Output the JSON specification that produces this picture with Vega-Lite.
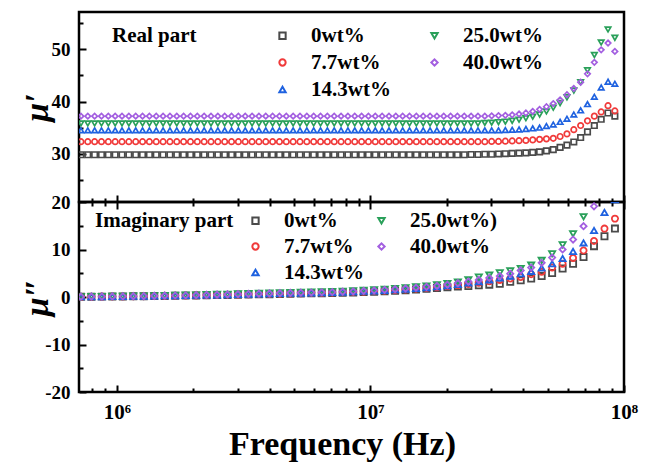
{
  "$schema": "https://vega.github.io/schema/vega-lite/v6.json",
  "background": "white",
  "padding": {"left": 18, "top": 10, "right": 5, "bottom": 5},
  "spacing": 0,
  "bounds": "flush",
  "config": {
    "font": "Liberation Serif",
    "view": {"stroke": "black", "strokeWidth": 2.5},
    "axis": {"labelFont": "Liberation Serif", "labelFontWeight": "bold", "labelFontSize": 19, "labelColor": "black", "tickColor": "black", "tickWidth": 2, "domain": false, "grid": false, "titleFont": "Liberation Serif", "titleFontWeight": "bold", "titleColor": "black", "labelOverlap": false, "labelFlush": false},
    "legend": {"labelFont": "Liberation Serif", "labelFontWeight": "bold", "labelFontSize": 21, "labelColor": "black", "titleFont": "Liberation Serif", "titleFontWeight": "bold", "titleFontSize": 21, "titleColor": "black", "symbolSize": 40, "symbolStrokeWidth": 2}
  },
  "datasets": {
    "real": [
      {"f":721100,"a":29.8,"b":32.3,"c":34.5,"d":35.8,"e":37.2},
      {"f":767400,"a":29.8,"b":32.3,"c":34.5,"d":35.8,"e":37.2},
      {"f":816600,"a":29.8,"b":32.3,"c":34.5,"d":35.8,"e":37.2},
      {"f":869000,"a":29.8,"b":32.3,"c":34.5,"d":35.8,"e":37.2},
      {"f":924700,"a":29.8,"b":32.3,"c":34.5,"d":35.8,"e":37.2},
      {"f":984000,"a":29.8,"b":32.3,"c":34.5,"d":35.8,"e":37.2},
      {"f":1047100,"a":29.8,"b":32.3,"c":34.5,"d":35.8,"e":37.2},
      {"f":1114300,"a":29.8,"b":32.3,"c":34.5,"d":35.8,"e":37.2},
      {"f":1185800,"a":29.8,"b":32.3,"c":34.5,"d":35.8,"e":37.2},
      {"f":1261800,"a":29.8,"b":32.3,"c":34.5,"d":35.8,"e":37.2},
      {"f":1342800,"a":29.8,"b":32.3,"c":34.5,"d":35.8,"e":37.2},
      {"f":1428900,"a":29.8,"b":32.3,"c":34.5,"d":35.8,"e":37.2},
      {"f":1520500,"a":29.8,"b":32.3,"c":34.5,"d":35.8,"e":37.2},
      {"f":1618100,"a":29.8,"b":32.3,"c":34.5,"d":35.8,"e":37.2},
      {"f":1721900,"a":29.8,"b":32.3,"c":34.5,"d":35.8,"e":37.2},
      {"f":1832300,"a":29.8,"b":32.3,"c":34.5,"d":35.8,"e":37.2},
      {"f":1949800,"a":29.8,"b":32.3,"c":34.5,"d":35.8,"e":37.2},
      {"f":2074900,"a":29.8,"b":32.3,"c":34.5,"d":35.8,"e":37.2},
      {"f":2208000,"a":29.8,"b":32.3,"c":34.5,"d":35.8,"e":37.2},
      {"f":2349600,"a":29.8,"b":32.3,"c":34.5,"d":35.8,"e":37.2},
      {"f":2500300,"a":29.8,"b":32.3,"c":34.5,"d":35.8,"e":37.2},
      {"f":2660700,"a":29.8,"b":32.3,"c":34.5,"d":35.8,"e":37.2},
      {"f":2831400,"a":29.8,"b":32.3,"c":34.5,"d":35.8,"e":37.2},
      {"f":3013000,"a":29.8,"b":32.3,"c":34.5,"d":35.8,"e":37.2},
      {"f":3206300,"a":29.8,"b":32.3,"c":34.5,"d":35.8,"e":37.2},
      {"f":3411900,"a":29.8,"b":32.3,"c":34.5,"d":35.8,"e":37.2},
      {"f":3630800,"a":29.8,"b":32.3,"c":34.5,"d":35.8,"e":37.2},
      {"f":3863700,"a":29.8,"b":32.3,"c":34.5,"d":35.8,"e":37.2},
      {"f":4111500,"a":29.8,"b":32.3,"c":34.5,"d":35.8,"e":37.2},
      {"f":4375200,"a":29.8,"b":32.3,"c":34.5,"d":35.8,"e":37.2},
      {"f":4655900,"a":29.8,"b":32.3,"c":34.5,"d":35.8,"e":37.2},
      {"f":4954500,"a":29.8,"b":32.3,"c":34.5,"d":35.8,"e":37.2},
      {"f":5272300,"a":29.8,"b":32.3,"c":34.5,"d":35.8,"e":37.2},
      {"f":5610500,"a":29.8,"b":32.3,"c":34.5,"d":35.8,"e":37.2},
      {"f":5970400,"a":29.8,"b":32.3,"c":34.5,"d":35.8,"e":37.2},
      {"f":6353300,"a":29.8,"b":32.3,"c":34.5,"d":35.8,"e":37.2},
      {"f":6760800,"a":29.8,"b":32.3,"c":34.5,"d":35.8,"e":37.2},
      {"f":7194500,"a":29.8,"b":32.3,"c":34.5,"d":35.8,"e":37.2},
      {"f":7656000,"a":29.8,"b":32.3,"c":34.5,"d":35.8,"e":37.2},
      {"f":8147000,"a":29.8,"b":32.3,"c":34.5,"d":35.8,"e":37.2},
      {"f":8669600,"a":29.8,"b":32.3,"c":34.5,"d":35.8,"e":37.2},
      {"f":9225700,"a":29.8,"b":32.3,"c":34.5,"d":35.8,"e":37.2},
      {"f":9817500,"a":29.8,"b":32.3,"c":34.5,"d":35.8,"e":37.2},
      {"f":10447000,"a":29.8,"b":32.3,"c":34.5,"d":35.8,"e":37.2},
      {"f":11117000,"a":29.8,"b":32.3,"c":34.5,"d":35.8,"e":37.2},
      {"f":11830000,"a":29.8,"b":32.3,"c":34.5,"d":35.8,"e":37.2},
      {"f":12589000,"a":29.8,"b":32.3,"c":34.5,"d":35.8,"e":37.2},
      {"f":13397000,"a":29.8,"b":32.3,"c":34.5,"d":35.8,"e":37.2},
      {"f":14256000,"a":29.8,"b":32.3,"c":34.5,"d":35.8,"e":37.2},
      {"f":15171000,"a":29.8,"b":32.3,"c":34.5,"d":35.8,"e":37.2},
      {"f":16144000,"a":29.8,"b":32.3,"c":34.5,"d":35.8,"e":37.2},
      {"f":17179000,"a":29.8,"b":32.3,"c":34.5,"d":35.8,"e":37.2},
      {"f":18281000,"a":29.8,"b":32.3,"c":34.5,"d":35.8,"e":37.2},
      {"f":19454000,"a":29.8,"b":32.3,"c":34.5,"d":35.8,"e":37.2},
      {"f":20701000,"a":29.8,"b":32.3,"c":34.5,"d":35.8,"e":37.2},
      {"f":22029000,"a":29.8,"b":32.3,"c":34.5,"d":35.8,"e":37.2},
      {"f":23442000,"a":29.8,"b":32.3,"c":34.5,"d":35.8,"e":37.2},
      {"f":24946000,"a":29.85,"b":32.3,"c":34.5,"d":35.8,"e":37.2},
      {"f":26546000,"a":29.85,"b":32.3,"c":34.5,"d":35.8,"e":37.2},
      {"f":28249000,"a":29.9,"b":32.3,"c":34.5,"d":35.9,"e":37.2},
      {"f":30061000,"a":29.9,"b":32.35,"c":34.5,"d":35.95,"e":37.25},
      {"f":31989000,"a":29.95,"b":32.35,"c":34.5,"d":36.05,"e":37.3},
      {"f":34041000,"a":30.0,"b":32.4,"c":34.55,"d":36.15,"e":37.35},
      {"f":36224000,"a":30.05,"b":32.45,"c":34.6,"d":36.3,"e":37.45},
      {"f":38548000,"a":30.1,"b":32.5,"c":34.65,"d":36.5,"e":37.6},
      {"f":41020000,"a":30.15,"b":32.55,"c":34.75,"d":36.8,"e":37.8},
      {"f":43652000,"a":30.25,"b":32.65,"c":34.85,"d":37.1,"e":38.1},
      {"f":46452000,"a":30.35,"b":32.75,"c":35.0,"d":37.5,"e":38.5},
      {"f":49431000,"a":30.55,"b":32.85,"c":35.3,"d":38.1,"e":39.0},
      {"f":52602000,"a":30.8,"b":32.95,"c":35.6,"d":38.8,"e":39.6},
      {"f":55976000,"a":31.2,"b":33.3,"c":36.1,"d":39.7,"e":40.3},
      {"f":59566000,"a":31.65,"b":33.8,"c":36.7,"d":40.8,"e":41.3},
      {"f":63387000,"a":32.25,"b":34.6,"c":37.5,"d":42.1,"e":42.5},
      {"f":67453000,"a":33.1,"b":35.4,"c":38.3,"d":43.7,"e":43.7},
      {"f":71779000,"a":34.2,"b":36.3,"c":39.5,"d":46.0,"e":45.3},
      {"f":76384000,"a":35.4,"b":37.2,"c":40.9,"d":48.9,"e":47.5},
      {"f":81283000,"a":36.6,"b":38.0,"c":42.7,"d":51.3,"e":49.9},
      {"f":86497000,"a":37.8,"b":39.2,"c":43.8,"d":53.8,"e":51.2},
      {"f":92045000,"a":37.2,"b":38.2,"c":43.4,"d":52.2,"e":49.6}
    ],
    "imag": [
      {"f":721100,"a":0.04,"b":0.04,"c":0.05,"d":0.05,"e":0.05},
      {"f":792900,"a":0.06,"b":0.07,"c":0.07,"d":0.09,"e":0.08},
      {"f":872000,"a":0.08,"b":0.09,"c":0.09,"d":0.11,"e":0.10},
      {"f":959000,"a":0.10,"b":0.11,"c":0.11,"d":0.13,"e":0.12},
      {"f":1054900,"a":0.12,"b":0.13,"c":0.14,"d":0.16,"e":0.15},
      {"f":1160100,"a":0.14,"b":0.16,"c":0.17,"d":0.19,"e":0.18},
      {"f":1275900,"a":0.16,"b":0.18,"c":0.18,"d":0.22,"e":0.20},
      {"f":1403200,"a":0.20,"b":0.22,"c":0.23,"d":0.27,"e":0.25},
      {"f":1543100,"a":0.22,"b":0.25,"c":0.26,"d":0.30,"e":0.28},
      {"f":1697100,"a":0.26,"b":0.28,"c":0.29,"d":0.35,"e":0.32},
      {"f":1866400,"a":0.29,"b":0.32,"c":0.33,"d":0.39,"e":0.36},
      {"f":2052600,"a":0.32,"b":0.35,"c":0.37,"d":0.43,"e":0.40},
      {"f":2257400,"a":0.36,"b":0.40,"c":0.41,"d":0.49,"e":0.45},
      {"f":2482600,"a":0.40,"b":0.44,"c":0.46,"d":0.54,"e":0.50},
      {"f":2730300,"a":0.44,"b":0.48,"c":0.51,"d":0.59,"e":0.55},
      {"f":3002700,"a":0.48,"b":0.53,"c":0.55,"d":0.65,"e":0.60},
      {"f":3302300,"a":0.52,"b":0.57,"c":0.60,"d":0.70,"e":0.65},
      {"f":3631700,"a":0.56,"b":0.62,"c":0.64,"d":0.76,"e":0.70},
      {"f":3994000,"a":0.60,"b":0.66,"c":0.69,"d":0.81,"e":0.75},
      {"f":4392500,"a":0.64,"b":0.70,"c":0.74,"d":0.86,"e":0.80},
      {"f":4830600,"a":0.68,"b":0.75,"c":0.78,"d":0.92,"e":0.85},
      {"f":5312600,"a":0.72,"b":0.79,"c":0.83,"d":0.97,"e":0.90},
      {"f":5842600,"a":0.76,"b":0.84,"c":0.87,"d":1.03,"e":0.95},
      {"f":6425500,"a":0.80,"b":0.88,"c":0.92,"d":1.08,"e":1.00},
      {"f":7066500,"a":0.84,"b":0.92,"c":0.97,"d":1.13,"e":1.05},
      {"f":7771500,"a":0.90,"b":0.99,"c":1.03,"d":1.21,"e":1.12},
      {"f":8546800,"a":0.96,"b":1.06,"c":1.10,"d":1.30,"e":1.20},
      {"f":9399500,"a":1.04,"b":1.14,"c":1.20,"d":1.40,"e":1.30},
      {"f":10337000,"a":1.12,"b":1.23,"c":1.29,"d":1.51,"e":1.40},
      {"f":11369000,"a":1.22,"b":1.34,"c":1.40,"d":1.64,"e":1.52},
      {"f":12503000,"a":1.32,"b":1.45,"c":1.52,"d":1.78,"e":1.65},
      {"f":13750000,"a":1.44,"b":1.58,"c":1.66,"d":1.94,"e":1.80},
      {"f":15122000,"a":1.58,"b":1.73,"c":1.81,"d":2.13,"e":1.97},
      {"f":16631000,"a":1.72,"b":1.89,"c":1.98,"d":2.32,"e":2.15},
      {"f":18290000,"a":1.88,"b":2.07,"c":2.16,"d":2.54,"e":2.35},
      {"f":20115000,"a":2.05,"b":2.29,"c":2.39,"d":2.81,"e":2.60},
      {"f":22121000,"a":2.20,"b":2.50,"c":2.65,"d":3.15,"e":2.90},
      {"f":24328000,"a":2.32,"b":2.75,"c":2.95,"d":3.60,"e":3.25},
      {"f":26755000,"a":2.45,"b":3.00,"c":3.25,"d":4.20,"e":3.60},
      {"f":29424000,"a":2.60,"b":3.30,"c":3.60,"d":4.60,"e":4.00},
      {"f":32359000,"a":2.80,"b":3.60,"c":4.00,"d":5.10,"e":4.40},
      {"f":35588000,"a":3.20,"b":3.90,"c":4.40,"d":5.50,"e":4.90},
      {"f":39138000,"a":3.50,"b":4.20,"c":4.90,"d":6.00,"e":5.60},
      {"f":43042000,"a":3.90,"b":4.80,"c":5.40,"d":6.70,"e":6.20},
      {"f":47336000,"a":4.40,"b":5.30,"c":6.10,"d":7.70,"e":7.20},
      {"f":52059000,"a":5.05,"b":6.20,"c":7.00,"d":9.10,"e":8.30},
      {"f":57252000,"a":6.00,"b":7.00,"c":8.10,"d":11.0,"e":10.0},
      {"f":62963000,"a":7.00,"b":8.20,"c":9.60,"d":13.3,"e":12.1},
      {"f":69244000,"a":8.40,"b":9.80,"c":11.4,"d":16.9,"e":14.9},
      {"f":76152000,"a":10.7,"b":11.8,"c":14.0,"d":21.8,"e":19.1},
      {"f":83753000,"a":12.8,"b":14.4,"c":17.8,"d":27.0,"e":24.0},
      {"f":92105000,"a":14.4,"b":16.5,"c":20.5,"d":32.0,"e":28.5}
    ]
  },
  "resolve": {"scale": {"color": "independent", "shape": "independent"}, "legend": {"color": "independent", "shape": "independent"}},
  "vconcat": [
    {
      "width": 545,
      "height": 190,
      "data": {"name": "real"},
      "transform": [{"fold": ["a", "b", "c", "d", "e"], "as": ["s", "v"]}],
      "mark": {"type": "point", "filled": false, "size": 30, "strokeWidth": 1.7, "clip": true, "opacity": 1},
      "encoding": {
        "x": {"field": "f", "type": "quantitative", "scale": {"type": "log", "domain": [708500, 100000000], "nice": false},
          "axis": {"orient": "bottom", "title": null, "labels": false, "minExtent": 0, "maxExtent": 0,
            "values": [800000, 900000, 1000000, 2000000, 3000000, 4000000, 5000000, 6000000, 7000000, 8000000, 9000000, 10000000, 20000000, 30000000, 40000000, 50000000, 60000000, 70000000, 80000000, 90000000, 100000000],
            "tickSize": {"condition": {"test": "datum.value == 1000000 || datum.value == 10000000 || datum.value == 100000000", "value": -7}, "value": -4}}},
        "y": {"field": "v", "type": "quantitative", "scale": {"domain": [20.75, 57.15], "nice": false, "zero": false},
          "axis": {"values": [25, 30, 35, 40, 45, 50, 55], "labelExpr": "datum.value % 10 == 0 ? '' + datum.value : ''",
            "tickSize": {"condition": {"test": "datum.value % 10 == 0", "value": -7}, "value": -4},
            "labelPadding": 16, "title": "μ′", "titleFontSize": 34, "titleFontStyle": "italic", "titleX": -42, "titleBaseline": "middle"}},
        "color": {"field": "s", "type": "nominal",
          "scale": {"domain": ["a", "b", "c", "d", "e"], "range": ["#4a4a4a", "#f03a3a", "#1f62e0", "#2aa05a", "#a35fe0"]},
          "legend": {"title": "Real part", "orient": "none", "legendX": 33, "legendY": 13, "columns": 2, "columnPadding": 33, "rowPadding": 5, "titleOrient": "left", "titleAnchor": "start", "titlePadding": 75, "labelOffset": 18,
            "labelExpr": "datum.label == 'a' ? '0wt%' : datum.label == 'b' ? '7.7wt%' : datum.label == 'c' ? '14.3wt%' : datum.label == 'd' ? '25.0wt%' : '40.0wt%'"}},
        "shape": {"field": "s", "type": "nominal",
          "scale": {"domain": ["a", "b", "c", "d", "e"], "range": ["square", "circle", "triangle-up", "triangle-down", "diamond"]},
          "legend": {"title": "Real part", "orient": "none", "legendX": 33, "legendY": 13, "columns": 2, "columnPadding": 33, "rowPadding": 5, "titleOrient": "left", "titleAnchor": "start", "titlePadding": 75, "labelOffset": 18,
            "labelExpr": "datum.label == 'a' ? '0wt%' : datum.label == 'b' ? '7.7wt%' : datum.label == 'c' ? '14.3wt%' : datum.label == 'd' ? '25.0wt%' : '40.0wt%'"}}
      }
    },
    {
      "width": 545,
      "height": 190,
      "data": {"name": "imag"},
      "transform": [{"fold": ["a", "b", "c", "d", "e"], "as": ["s", "v"]}],
      "resolve": {"axis": {"x": "independent"}},
      "layer": [
        {
          "mark": {"type": "point", "filled": false, "size": 38, "strokeWidth": 1.8, "clip": true, "opacity": 1},
          "encoding": {
            "x": {"field": "f", "type": "quantitative", "scale": {"type": "log", "domain": [708500, 100000000], "nice": false},
              "axis": {"orient": "bottom", "title": "Frequency (Hz)", "titleFontSize": 34, "titleX": 263, "titleY": 62, "titleBaseline": "alphabetic",
                "values": [800000, 900000, 1000000, 2000000, 3000000, 4000000, 5000000, 6000000, 7000000, 8000000, 9000000, 10000000, 20000000, 30000000, 40000000, 50000000, 60000000, 70000000, 80000000, 90000000, 100000000],
                "labelExpr": "datum.value == 1000000 ? '10⁶' : datum.value == 10000000 ? '10⁷' : datum.value == 100000000 ? '10⁸' : ''",
                "labelPadding": 16, "labelFontSize": 21,
                "tickSize": {"condition": {"test": "datum.value == 1000000 || datum.value == 10000000 || datum.value == 100000000", "value": -7}, "value": -4}}},
            "y": {"field": "v", "type": "quantitative", "scale": {"domain": [-20, 20], "nice": false, "zero": false},
              "axis": {"values": [-20, -15, -10, -5, 0, 5, 10, 15, 20], "labelExpr": "datum.value % 10 == 0 ? '' + datum.value : ''",
                "tickSize": {"condition": {"test": "datum.value % 10 == 0", "value": -7}, "value": -4},
                "labelPadding": 16, "title": "μ″", "titleFontSize": 34, "titleFontStyle": "italic", "titleX": -42, "titleBaseline": "middle"}},
            "color": {"field": "s", "type": "nominal",
              "scale": {"domain": ["a", "b", "c", "d", "e"], "range": ["#4a4a4a", "#f03a3a", "#1f62e0", "#2aa05a", "#a35fe0"]},
              "legend": {"title": "Imaginary part", "orient": "none", "legendX": 16, "legendY": 8, "columns": 2, "columnPadding": 7, "rowPadding": 4, "titleOrient": "left", "titleAnchor": "start", "titlePadding": 11, "labelOffset": 18,
                "labelExpr": "datum.label == 'a' ? '0wt%' : datum.label == 'b' ? '7.7wt%' : datum.label == 'c' ? '14.3wt%' : datum.label == 'd' ? '25.0wt%)' : '40.0wt%'"}},
            "shape": {"field": "s", "type": "nominal",
              "scale": {"domain": ["a", "b", "c", "d", "e"], "range": ["square", "circle", "triangle-up", "triangle-down", "diamond"]},
              "legend": {"title": "Imaginary part", "orient": "none", "legendX": 16, "legendY": 8, "columns": 2, "columnPadding": 7, "rowPadding": 4, "titleOrient": "left", "titleAnchor": "start", "titlePadding": 11, "labelOffset": 18,
                "labelExpr": "datum.label == 'a' ? '0wt%' : datum.label == 'b' ? '7.7wt%' : datum.label == 'c' ? '14.3wt%' : datum.label == 'd' ? '25.0wt%)' : '40.0wt%'"}}
          }
        },
        {
          "mark": {"type": "point", "opacity": 0},
          "encoding": {
            "x": {"field": "f", "type": "quantitative", "scale": {"type": "log", "domain": [708500, 100000000], "nice": false},
              "axis": {"orient": "top", "title": null, "labels": false, "minExtent": 0, "maxExtent": 0,
                "values": [800000, 900000, 1000000, 2000000, 3000000, 4000000, 5000000, 6000000, 7000000, 8000000, 9000000, 10000000, 20000000, 30000000, 40000000, 50000000, 60000000, 70000000, 80000000, 90000000, 100000000],
                "tickSize": {"condition": {"test": "datum.value == 1000000 || datum.value == 10000000 || datum.value == 100000000", "value": -7}, "value": -4}}}
          }
        }
      ]
    }
  ]
}
